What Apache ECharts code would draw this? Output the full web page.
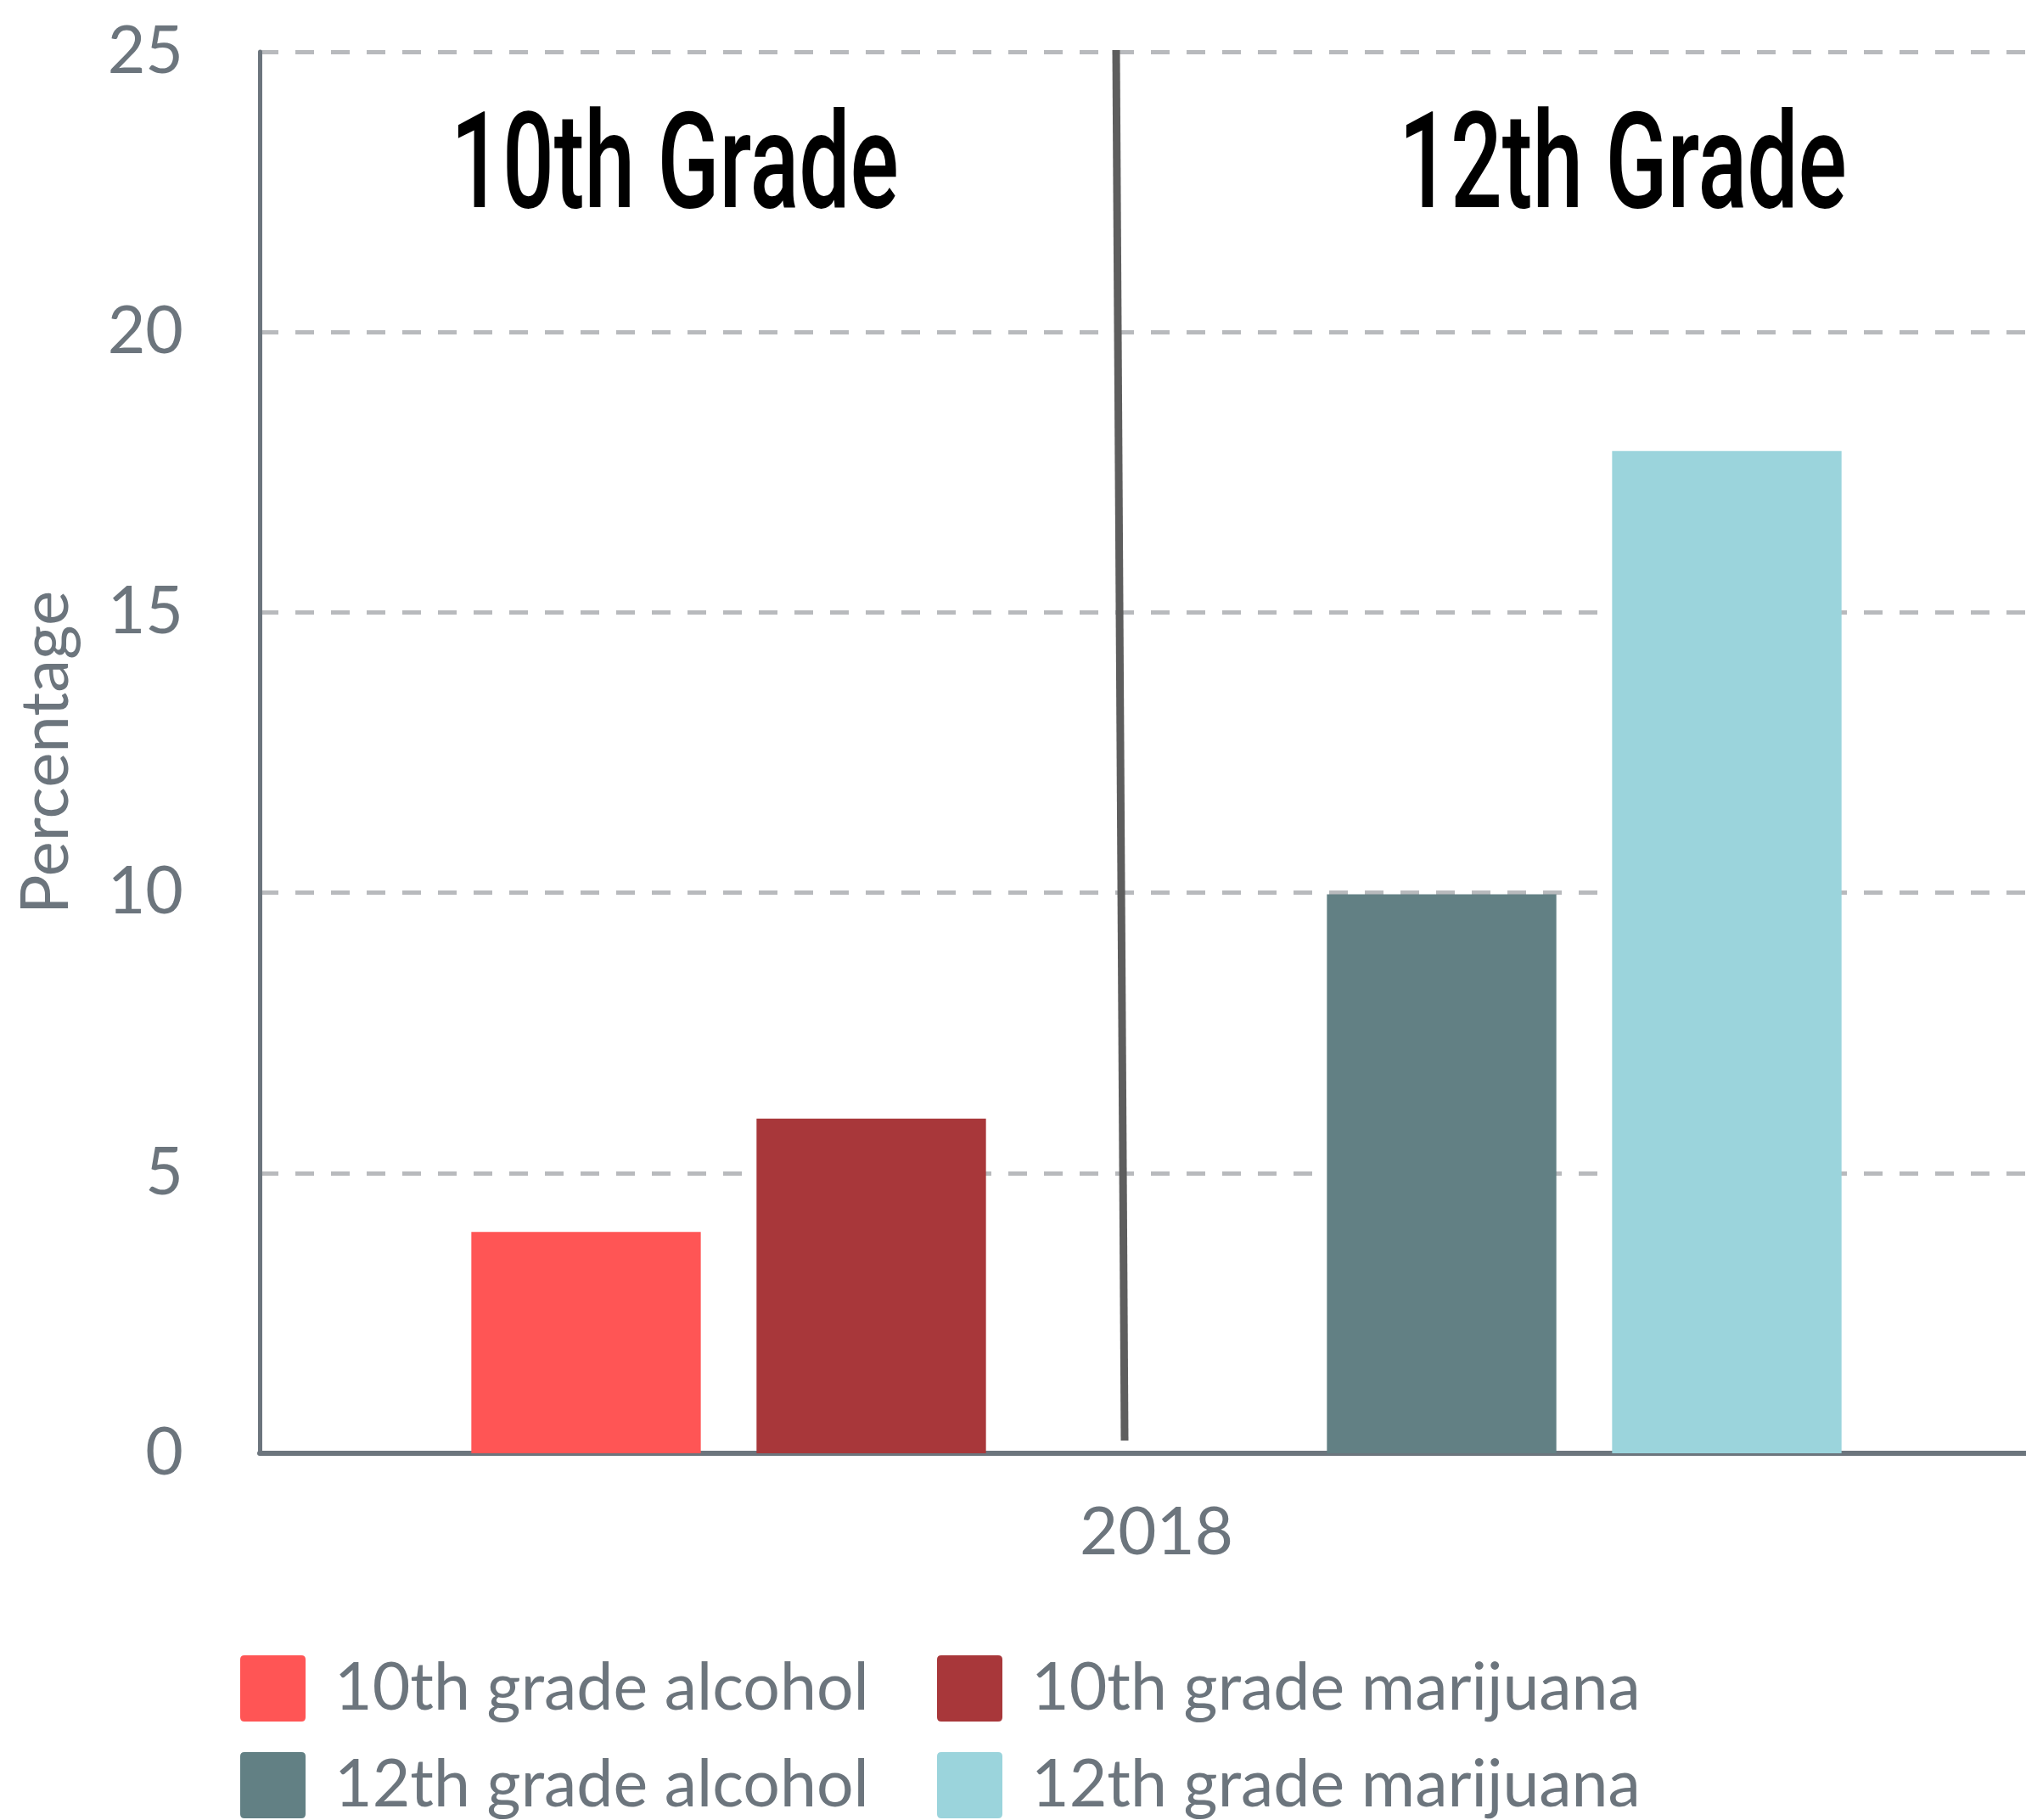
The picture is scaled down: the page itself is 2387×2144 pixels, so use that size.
<!DOCTYPE html>
<html>
<head>
<meta charset="utf-8">
<title>2018</title>
<script src="https://cdn.jsdelivr.net/npm/echarts@6.0.0/dist/echarts.min.js"></script>
<style>
html,body{margin:0;padding:0;background:#fff;}
#chart{width:2387px;height:2144px;}
</style>
</head>
<body>
<div id="chart"></div>
<script>
// data
var years = ['2018'];
var alcohol10 = [3.95];
var marijuana10 = [5.97];
var alcohol12 = [9.97];
var marijuana12 = [17.88];
var names10 = ['10th grade alcohol', '10th grade marijuana'];
var names12 = ['12th grade alcohol', '12th grade marijuana'];
var gradeTitles = ['10th Grade', '12th Grade'];
var yTicks = [0, 5, 10, 15, 20, 25];

// styles
var grey = '#6c757d';
var colors = ['#ff5555', '#a8373a', '#628084', '#9bd4dc'];
var iconPath = 'path://M5,0 H72 Q77,0 77,5 V73 Q77,78 72,78 H5 Q0,78 0,73 V5 Q0,0 5,0 Z';
var titleFont = '500 157px Roboto';

function barSeries(name, data, color){
    return {
        name: name,
        type: 'bar',
        data: data,
        barGap: '24.3%',
        barCategoryGap: '23.6%',
        itemStyle: { color: color }
    };
}

// one legend per column, so the rows line up like the original
function legendCol(left, data){
    return {
        orient: 'vertical',
        left: left,
        top: 1945,
        height: 300,
        itemWidth: 77,
        itemHeight: 78,
        itemGap: 36,
        icon: iconPath,
        data: data,
        textStyle: { fontSize: 77, fontFamily: 'Lato', color: grey, padding: [0, 0, 0, 29] }
    };
}

// condensed look: squeeze a normal font to the width of the original heading
var measureCtx = document.createElement('canvas').getContext('2d');
function gradeTitle(text, cx){
    measureCtx.font = titleFont;
    var w = measureCtx.measureText(text).width;
    return {
        type: 'text',
        x: cx,
        y: 205,
        scaleX: 528 / w,
        z: 20,
        style: {
            text: text,
            font: titleFont,
            fill: '#000',
            align: 'center',
            verticalAlign: 'middle'
        }
    };
}

var chart = echarts.init(document.getElementById('chart'));
var option = {
    animation: false,
    backgroundColor: '#fff',
    grid: { left: 306, right: -32, top: 61, bottom: 432, containLabel: false, outerBoundsMode: 'none' },
    legend: [
        legendCol(278, [names10[0], names12[0]]),
        legendCol(1099, [names10[1], names12[1]])
    ],
    xAxis: {
        type: 'category',
        data: years,
        axisLine: { lineStyle: { color: grey, width: 6 } },
        axisTick: { show: false },
        axisLabel: { fontSize: 78, fontFamily: 'Lato', color: grey, margin: 55 }
    },
    yAxis: {
        type: 'value',
        min: yTicks[0],
        max: yTicks[yTicks.length - 1],
        interval: yTicks[1] - yTicks[0],
        name: 'Percentage',
        nameLocation: 'middle',
        nameGap: 212,
        nameTextStyle: { fontSize: 78, fontFamily: 'Lato', color: grey },
        axisLine: { show: true, lineStyle: { color: grey, width: 5 } },
        axisTick: { show: false },
        axisLabel: { fontSize: 77, fontFamily: 'Lato', color: grey, margin: 90 },
        splitLine: { lineStyle: { color: '#b8babd', width: 5, type: [22, 20] } }
    },
    series: [
        barSeries(names10[0], alcohol10, colors[0]),
        barSeries(names10[1], marijuana10, colors[1]),
        // empty slot between the two grades
        { name: 'gap', type: 'bar', data: ['-'], silent: true },
        barSeries(names12[0], alcohol12, colors[2]),
        barSeries(names12[1], marijuana12, colors[3])
    ],
    graphic: [
        {
            type: 'line',
            z: 20,
            shape: { x1: 1315, y1: 59, x2: 1325, y2: 1697 },
            style: { stroke: '#5e5e5e', lineWidth: 9 }
        },
        gradeTitle(gradeTitles[0], 795),
        gradeTitle(gradeTitles[1], 1912)
    ]
};
chart.setOption(option);
</script>
</body>
</html>
